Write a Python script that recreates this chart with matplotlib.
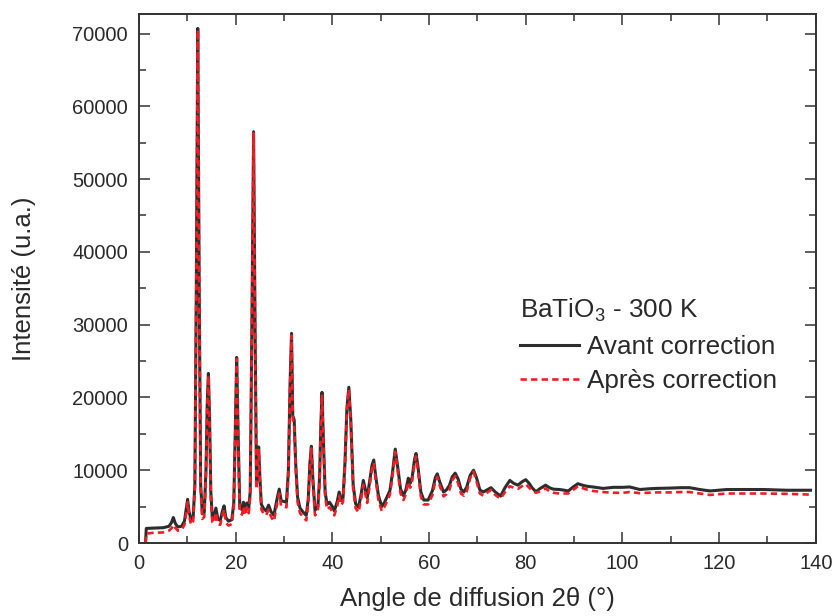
import matplotlib
matplotlib.use("Agg")
import matplotlib.pyplot as plt
from matplotlib.ticker import MultipleLocator

plt.rcParams['font.family'] = ['Liberation Sans', 'DejaVu Sans']
plt.rcParams['mathtext.default'] = 'regular'

# scattering angle 2theta (deg)
angle = [1.35, 1.5, 3.0, 5.0, 6.2, 6.7, 7.1, 7.5, 8.0, 8.8, 9.4, 9.75, 10.05, 10.35,
         10.75, 11.2, 11.55, 11.85, 12.15, 12.45, 12.75, 13.1, 13.5, 13.85, 14.1,
         14.35, 14.6, 14.85, 15.15, 15.5, 15.9, 16.3, 16.8, 17.3, 17.6, 17.95, 18.5,
         19.2, 19.6, 19.9, 20.2, 20.5, 20.85, 21.3, 21.6, 21.95, 22.3, 22.7, 23.0,
         23.35, 23.7, 24.0, 24.3, 24.55, 24.75, 25.0, 25.3, 25.8, 26.3, 26.8, 27.3,
         27.9, 28.6, 29.0, 29.4, 30.0, 30.5, 30.9, 31.25, 31.55, 31.8, 32.1, 32.4,
         32.8, 33.3, 34.0, 34.6, 35.0, 35.35, 35.65, 35.95, 36.4, 37.0, 37.35, 37.6,
         37.85, 38.1, 38.5, 38.9, 39.4, 40.0, 40.4, 41.0, 41.4, 41.8, 42.2, 42.6,
         43.0, 43.4, 43.8, 44.3, 44.8, 45.4, 45.9, 46.4, 46.8, 47.2, 47.7, 48.2,
         48.55, 48.9, 49.5, 50.2, 50.8, 51.5, 51.9, 52.4, 53.0, 53.5, 54.1, 54.7,
         55.2, 55.7, 56.1, 56.5, 57.0, 57.3, 57.7, 58.3, 58.9, 59.8, 60.7, 61.3,
         61.7, 62.2, 63.0, 63.6, 64.2, 64.8, 65.4, 66.0, 66.6, 67.2, 67.8, 68.5,
         69.2, 69.8, 70.5, 71.2, 72.0, 72.8, 73.7, 74.8, 75.7, 76.7, 77.5, 78.4,
         79.2, 80.0, 80.7, 81.3, 82.1, 83.0, 84.1, 84.9, 85.7, 87.0, 88.0, 88.8,
         89.8, 90.8, 91.7, 92.6, 93.9, 96.0, 98.1, 100.1, 101.5, 103.6, 105.5,
         107.0, 110.0, 112.0, 113.9, 116.0, 118.1, 119.8, 121.6, 125.0, 129.2,
         134.0, 138.9]

avant = [0, 2000, 2050, 2100, 2300, 2800, 3500, 2700, 2200, 2300, 3000, 4600, 6000, 4300,
         3200, 3600, 8000, 35000, 70700, 35000, 8000, 4000, 4200, 10000, 19000,
         23300, 17000, 7000, 3600, 3500, 4800, 3300, 3100, 4500, 5100, 3500, 3000,
         3200, 5500, 15000, 25500, 15000, 4800, 4600, 5600, 4500, 5500, 4800, 7000,
         30000, 56500, 30000, 8000, 11000, 13200, 9000, 5300, 4700, 4400, 5200, 4300,
         3800, 6200, 7400, 5800, 5700, 5600, 10000, 22000, 28800, 17500, 16900, 11000,
         6300, 4800, 4200, 3800, 6000, 11000, 13300, 9000, 4500, 5000, 9000, 16000,
         20700, 15000, 7000, 5300, 5600, 5000, 4400, 5700, 7000, 5800, 6200, 11000,
         18500, 21400, 17000, 8000, 5400, 4900, 6500, 8600, 7400, 6200, 8500, 10700,
         11400, 9500, 6600, 5000, 5600, 6600, 7200, 9500, 12900, 10500, 7400, 6500,
         7300, 8900, 8200, 9000, 11500, 12300, 10500, 7000, 5900, 5900, 7200, 9000,
         9500, 8400, 7000, 7300, 7900, 9100, 9600, 8800, 7400, 7000, 7700, 9300,
         10000, 9000, 7300, 7000, 7300, 7600, 7000, 6450, 7600, 8600, 8200, 7950,
         8400, 8700, 8200, 7600, 7050, 7500, 7950, 7600, 7400, 7350, 7250, 7150,
         7700, 8150, 7950, 7800, 7700, 7500, 7650, 7650, 7700, 7350, 7450,
         7500, 7550, 7600, 7600, 7350, 7150, 7250, 7350, 7350, 7350,
         7250, 7250]

apres = [0, 1300, 1400, 1450, 1700, 2000, 2500, 2100, 1700, 1800, 2500, 4000, 5600, 3800,
         2500, 3000, 7500, 34500, 70500, 34500, 7500, 3300, 3600, 9500, 18500,
         23000, 16500, 6300, 2900, 2700, 4200, 2600, 2500, 3900, 4600, 2800, 2400,
         2600, 5000, 14500, 25300, 14500, 4200, 3900, 5000, 3800, 4900, 4100, 6400,
         29500, 56300, 29500, 7400, 10500, 12800, 8400, 4600, 4000, 3800, 4600, 3600,
         3000, 5500, 6800, 5100, 5000, 4900, 9400, 21500, 28500, 17000, 16400, 10400,
         5600, 4100, 3500, 3100, 5400, 10500, 13000, 8400, 3800, 4300, 8400, 15500,
         20400, 14500, 6400, 4600, 4900, 4300, 3800, 5100, 6500, 5200, 5600, 10500,
         18000, 21100, 16500, 7400, 4800, 4200, 5900, 8000, 6800, 5500, 7900, 10200,
         11000, 9000, 6000, 4400, 5000, 6000, 6700, 9000, 12500, 10000, 6800, 5900,
         6700, 8400, 7600, 8500, 11000, 11900, 10000, 6400, 5300, 5300, 6600, 8500,
         9100, 7900, 6400, 6700, 7300, 8600, 9200, 8200, 6800, 6500, 7100, 8900,
         9800, 8500, 6800, 6500, 6900, 7300, 6600, 6100, 7000, 7800, 7600, 7450,
         7800, 8100, 7600, 7200, 6900, 7100, 7500, 7100, 6900, 6800, 6800, 6800,
         7300, 7800, 7550, 7350, 7150, 7000, 6900, 6900, 7000, 6850, 6900,
         6950, 6950, 7000, 7000, 6800, 6600, 6700, 6800, 6800, 6800,
         6750, 6650]

fig = plt.figure(figsize=(8.35, 6.16), dpi=100)
ax = fig.add_axes([0.1665, 0.1185, 0.8105, 0.859])

ax.plot(angle, avant, color='#2d2d2d', lw=2.2, label='Avant correction')
ax.plot(angle, apres, color='#f21d24', lw=1.9, dashes=(2.4, 1.6),
        label='Après correction')

ax.set_xlim(0, 140)
ax.set_ylim(0, 72700)
ax.xaxis.set_major_locator(MultipleLocator(20))
ax.xaxis.set_minor_locator(MultipleLocator(10))
ax.yaxis.set_major_locator(MultipleLocator(10000))
ax.yaxis.set_minor_locator(MultipleLocator(5000))
ax.tick_params(which='both', direction='in', top=True, right=True,
               color='#333333', width=1.1, labelsize=14.5, labelcolor='#2a2a2a')
ax.tick_params(which='major', length=8, pad=8)
ax.tick_params(which='minor', length=4.8)
for s in ax.spines.values():
    s.set_linewidth(1.4)
    s.set_color('#333333')

ax.set_xlabel('Angle de diffusion 2θ (°)', fontsize=18.5, color='#2a2a2a', labelpad=10)
ax.set_ylabel('Intensité (u.a.)', fontsize=18.5, color='#2a2a2a', labelpad=26)

leg = ax.legend(title='BaTiO$_3$ - 300 K', loc='upper left',
                bbox_to_anchor=(0.563, 0.466), frameon=False, fontsize=18.8,
                title_fontsize=18.8, handlelength=2.25, handletextpad=0.3,
                labelspacing=0.38, borderpad=0, borderaxespad=0, alignment='left')
leg._legend_box.sep = 8
for t in leg.get_texts():
    t.set_color('#2a2a2a')
leg.get_title().set_color('#2a2a2a')

fig.savefig('out.png', dpi=100)
